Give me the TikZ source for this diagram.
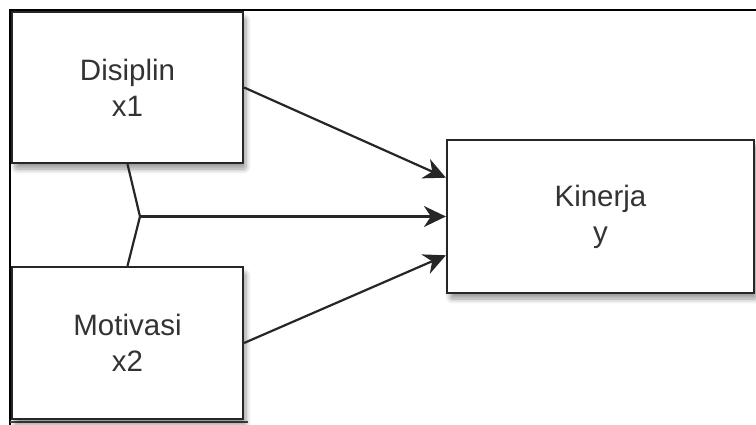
\documentclass[tikz,border=0pt]{standalone}
\usepackage{fontspec}
\setmainfont{Liberation Sans}
\usetikzlibrary{shadows.blur,arrows.meta,calc}
\definecolor{txt}{HTML}{333333}
\begin{document}
\begin{tikzpicture}[x=1pt,y=-1pt,
  box/.style={draw=black!85,line width=2.2pt,fill=white,align=center,
    font=\fontsize{29.5}{36}\selectfont,text=txt,inner sep=0pt,
    blur shadow={shadow xshift=3pt,shadow yshift=-6pt,shadow blur steps=8,shadow opacity=40,shadow blur extra rounding=2pt,shadow blur radius=5pt}},
  conn/.style={draw=black!85,line width=2.2pt},
  arr/.style={conn,-{Stealth[length=22pt,width=21pt,inset=7pt]}},
  frame/.style={draw=black,line width=2.2pt}]
\useasboundingbox (0,0) rectangle (756,425);
\draw[frame] (10,425) -- (10,10) -- (756,10);
\draw[draw=black!70,line width=1.5pt] (10,422) -- (248,422);
\node[box,minimum width=231pt,minimum height=151pt] (b1) at (127.5,87.5) {Disiplin\\x1};
\node[box,minimum width=231pt,minimum height=152pt] (b2) at (127.5,343) {Motivasi\\x2};
\node[box,minimum width=307pt,minimum height=153pt] (k) at (600.5,216.5) {Kinerja\\y};
\coordinate (j) at (140,216.5);
\draw[conn] (b1.south) -- (j);
\draw[conn] (b2.north) -- (j);
\draw[arr] (j) -- (k.west);
\draw[arr] (b1.east) -- ($(k.west)!0.5!(k.north west)$);
\draw[arr] (b2.east) -- ($(k.west)!0.5!(k.south west)$);
\end{tikzpicture}
\end{document}
